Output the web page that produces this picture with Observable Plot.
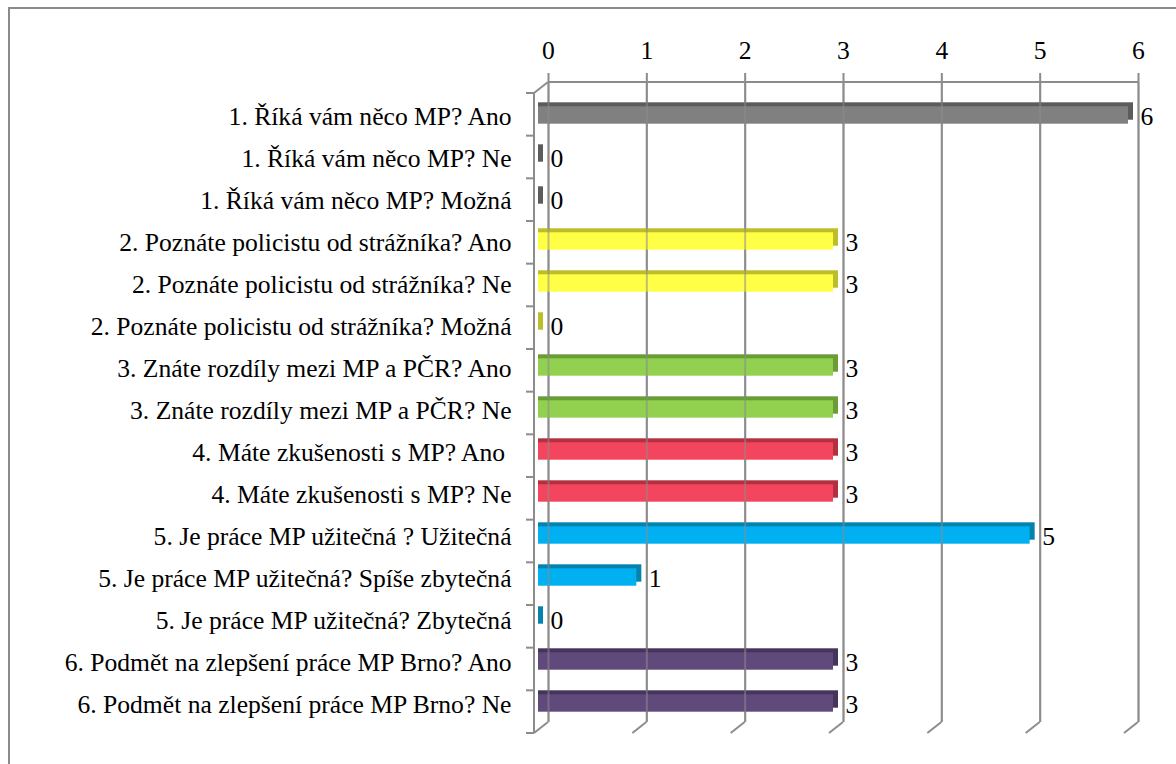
<!DOCTYPE html>
<html>
<head>
<meta charset="utf-8">
<script src="https://cdn.jsdelivr.net/npm/d3@7"></script>
<script src="https://cdn.jsdelivr.net/npm/@observablehq/plot@0.6"></script>
<style>
  html, body { margin: 0; padding: 0; background: #fff; overflow: hidden; }
  #wrap { position: relative; width: 1176px; height: 764px; overflow: hidden; }
  #border { position: absolute; left: 8px; top: 7px; width: 1200px; height: 800px; border: 2px solid #8a8a8a; box-sizing: border-box; }
  #chart { position: absolute; left: 0; top: 0; }
  #chart svg text { font-family: "Liberation Serif", "Times New Roman", serif; }
</style>
</head>
<body>
<div id="wrap"><div id="border"></div><div id="chart"></div></div>
<script>
const categories = [
  "1. Říká vám něco MP? Ano",
  "1. Říká vám něco MP? Ne",
  "1. Říká vám něco MP? Možná",
  "2. Poznáte policistu od strážníka? Ano",
  "2. Poznáte policistu od strážníka? Ne",
  "2. Poznáte policistu od strážníka? Možná",
  "3. Znáte rozdíly mezi MP a PČR? Ano",
  "3. Znáte rozdíly mezi MP a PČR? Ne",
  "4. Máte zkušenosti s MP? Ano\u00a0",
  "4. Máte zkušenosti s MP? Ne",
  "5. Je práce MP užitečná ? Užitečná",
  "5. Je práce MP užitečná? Spíše zbytečná",
  "5. Je práce MP užitečná? Zbytečná",
  "6. Podmět na zlepšení práce MP Brno? Ano",
  "6. Podmět na zlepšení práce MP Brno? Ne"
];
const values = [6, 0, 0, 3, 3, 0, 3, 3, 3, 3, 5, 1, 0, 3, 3];
const groups = [1, 1, 1, 2, 2, 2, 3, 3, 4, 4, 5, 5, 5, 6, 6];
const xTicks = [0, 1, 2, 3, 4, 5, 6];
const groupFront = {1: "#808080", 2: "#ffff45", 3: "#92d050", 4: "#f4455e", 5: "#00b0f0", 6: "#604a7b"};
const groupDark  = {1: "#5c5c5c", 2: "#bdbd2a", 3: "#6a9c38", 4: "#b3303f", 5: "#0583ae", 6: "#45345c"};

const rows = categories.map((label, i) => ({
  label, value: values[i], front: groupFront[groups[i]], dark: groupDark[groups[i]]
}));

const DX = 14, DY = -11; // depth offset of the back wall
const FONT = "'Liberation Serif', 'Times New Roman', serif";
const FS = 25.6;

function axes3d(index, scales, vals, dimensions) {
  const x = scales.x;
  const {marginTop, marginBottom, height} = dimensions;
  const top = marginTop, bottom = height - marginBottom;
  const n = categories.length;
  const step = (bottom - top) / n;
  const g = d3.create("svg:g")
    .attr("stroke", "#8c8c8c").attr("stroke-width", 2).attr("fill", "none");
  const x0 = x(0);
  g.append("line").attr("x1", x0).attr("x2", x0).attr("y1", top).attr("y2", bottom);
  for (let i = 0; i <= n; i++) {
    const yy = top + i * step;
    g.append("line").attr("x1", x0 - 8).attr("x2", x0).attr("y1", yy).attr("y2", yy);
  }
  g.append("line").attr("x1", x0).attr("y1", top).attr("x2", x0 + DX).attr("y2", top + DY);
  g.append("line").attr("x1", x0 + DX).attr("y1", top + DY)
    .attr("x2", x(xTicks[xTicks.length - 1]) + DX).attr("y2", top + DY);
  for (const v of xTicks) {
    g.append("line").attr("x1", x(v)).attr("y1", bottom).attr("x2", x(v) + DX).attr("y2", bottom + DY);
  }
  return g.node();
}

const chart = Plot.plot({
  width: 1176,
  height: 764,
  marginLeft: 534,
  marginRight: 52,
  marginTop: 93,
  marginBottom: 31,
  style: {fontFamily: FONT, fontSize: FS + "px", color: "#000", background: "transparent"},
  x: {domain: [0, 6], axis: null},
  y: {domain: categories, axis: null, padding: 0},
  color: {type: "identity"},
  marks: [
    axes3d,
    Plot.ruleX(xTicks, {x: d => d, dx: DX, dy: DY, insetTop: -9, stroke: "#8c8c8c", strokeWidth: 2}),
    Plot.barX(rows, {x1: 0, x2: "value", y: "label", fill: "dark", dx: 9, dy: -8,
      insetLeft: -5, insetTop: 12.3, insetBottom: 12.3}),
    Plot.barX(rows, {x1: 0, x2: "value", y: "label", fill: "front", dx: 4, dy: -4,
      insetTop: 12.3, insetBottom: 12.3}),
    Plot.ruleX(xTicks, {x: d => d, dx: DX, dy: DY, stroke: "#8c8c8c", strokeWidth: 2, strokeOpacity: 0.55}),
    Plot.text(rows, {x: "value", y: "label", text: d => String(d.value), dx: 16, dy: -3,
      textAnchor: "start", fill: "#000", fontSize: FS, fontFamily: FONT}),
    Plot.text(rows, {x: 0, y: "label", text: "label", dx: -23, dy: -3,
      textAnchor: "end", fill: "#000", fontSize: FS, fontFamily: FONT}),
    Plot.text(xTicks, {x: d => d, frameAnchor: "top", lineAnchor: "middle", text: d => String(d),
      dx: DX, dy: -43, fill: "#000", fontSize: FS, fontFamily: FONT})
  ]
});
document.getElementById("chart").appendChild(chart);
</script>
</body>
</html>
